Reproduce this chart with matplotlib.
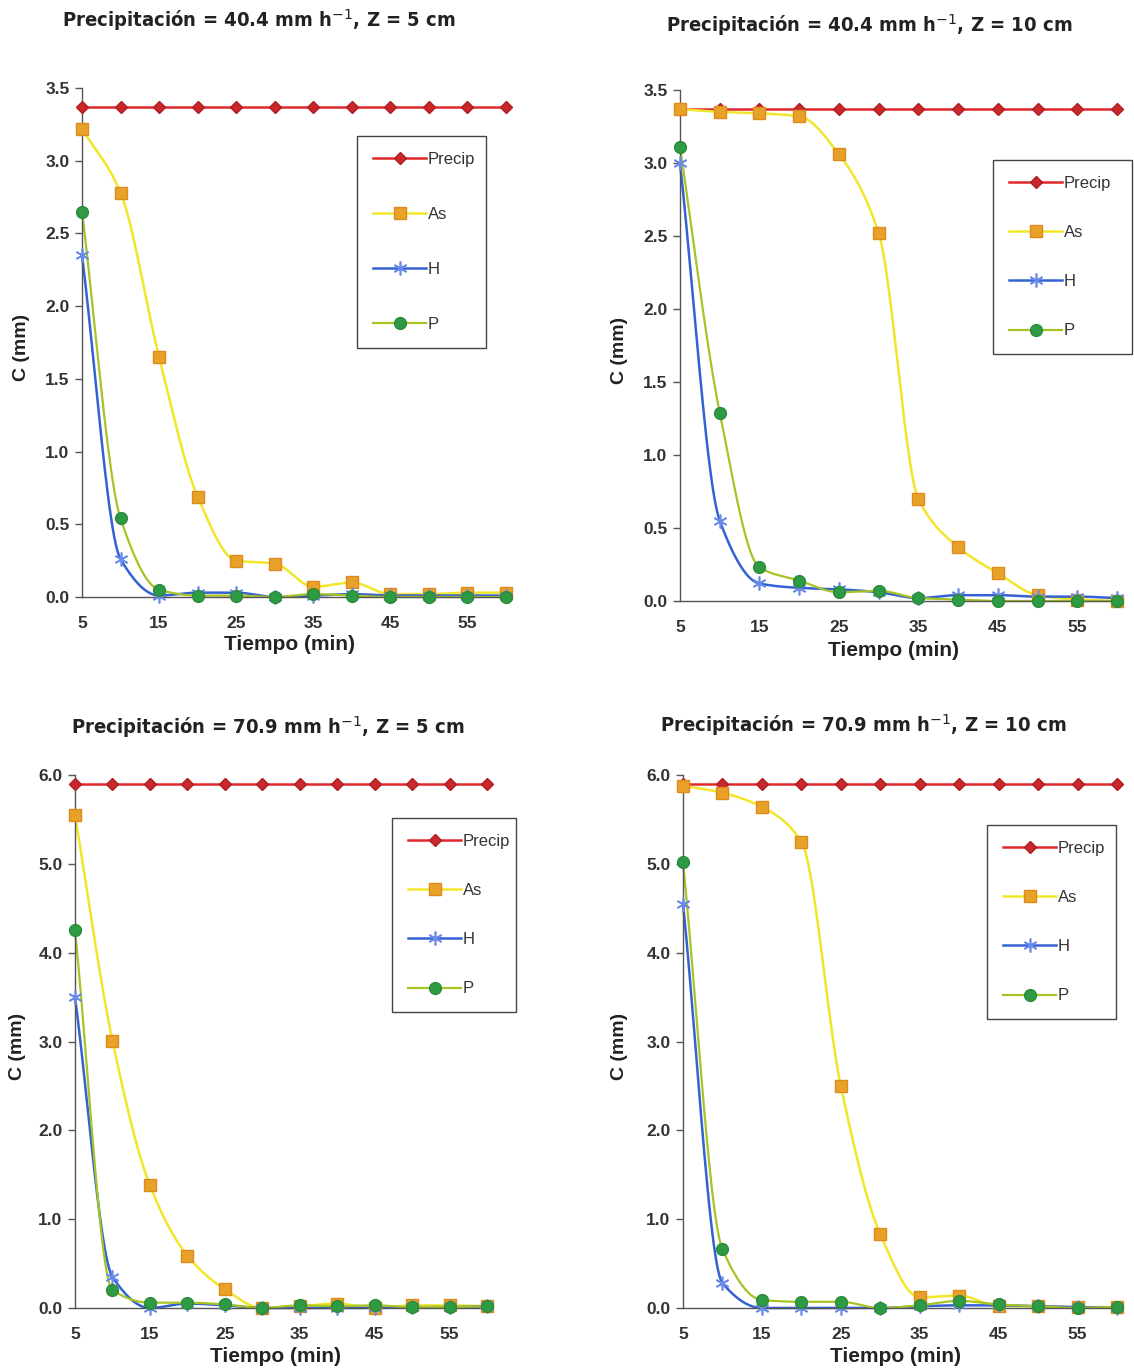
import numpy as np
import matplotlib
matplotlib.use("Agg")
import matplotlib.pyplot as plt
from matplotlib.lines import Line2D

plt.rcParams['font.family'] = ['Liberation Sans', 'DejaVu Sans']

# ---------------- data ----------------
tiempo = [5, 10, 15, 20, 25, 30, 35, 40, 45, 50, 55, 60]
xticks = [5, 15, 25, 35, 45, 55]

titles = [
    r"Precipitación = 40.4 mm h$^{-1}$, Z = 5 cm",
    r"Precipitación = 40.4 mm h$^{-1}$, Z = 10 cm",
    r"Precipitación = 70.9 mm h$^{-1}$, Z = 5 cm",
    r"Precipitación = 70.9 mm h$^{-1}$, Z = 10 cm",
]
series_names = ["Precip", "As", "H", "P"]

# Panel 1: 40.4 mm/h, Z = 5 cm
p1_precip = [3.37] * 12
p1_as = [3.22, 2.78, 1.65, 0.69, 0.25, 0.23, 0.07, 0.10, 0.02, 0.02, 0.03, 0.03]
p1_h = [2.35, 0.26, 0.01, 0.03, 0.03, 0.00, 0.01, 0.02, 0.01, 0.01, 0.01, 0.01]
p1_p = [2.65, 0.54, 0.05, 0.01, 0.01, 0.00, 0.02, 0.01, 0.00, 0.00, 0.00, 0.00]

# Panel 2: 40.4 mm/h, Z = 10 cm
p2_precip = [3.37] * 12
p2_as = [3.37, 3.35, 3.34, 3.32, 3.06, 2.52, 0.70, 0.37, 0.19, 0.04, 0.01, 0.00]
p2_h = [3.00, 0.55, 0.12, 0.09, 0.08, 0.06, 0.02, 0.04, 0.04, 0.03, 0.03, 0.02]
p2_p = [3.11, 1.29, 0.23, 0.14, 0.06, 0.07, 0.02, 0.01, 0.00, 0.00, 0.00, 0.00]

# Panel 3: 70.9 mm/h, Z = 5 cm
p3_precip = [5.90] * 12
p3_as = [5.55, 3.01, 1.38, 0.59, 0.21, 0.00, 0.02, 0.05, 0.00, 0.03, 0.03, 0.02]
p3_h = [3.50, 0.35, 0.00, 0.05, 0.03, 0.00, 0.00, 0.00, 0.00, 0.01, 0.01, 0.02]
p3_p = [4.25, 0.20, 0.06, 0.06, 0.04, 0.00, 0.03, 0.02, 0.03, 0.01, 0.01, 0.02]

# Panel 4: 70.9 mm/h, Z = 10 cm
p4_precip = [5.90] * 12
p4_as = [5.88, 5.80, 5.64, 5.25, 2.50, 0.83, 0.12, 0.14, 0.02, 0.02, 0.01, 0.01]
p4_h = [4.55, 0.28, 0.00, 0.00, 0.00, 0.00, 0.02, 0.03, 0.03, 0.02, 0.01, 0.00]
p4_p = [5.02, 0.66, 0.09, 0.07, 0.07, 0.00, 0.03, 0.08, 0.04, 0.02, 0.00, 0.01]

panels = [
    (p1_precip, p1_as, p1_h, p1_p),
    (p2_precip, p2_as, p2_h, p2_p),
    (p3_precip, p3_as, p3_h, p3_p),
    (p4_precip, p4_as, p4_h, p4_p),
]
ymax = [3.5, 3.5, 6.0, 6.0]
ystep = [0.5, 0.5, 1.0, 1.0]

# ---------------- styles ----------------
styles = [
    dict(color="#E0282C", lw=1.8, marker="D", ms=6, mfc="#C8282A", mec="#B01E22"),
    dict(color="#F2E62A", lw=1.8, marker="s", ms=8.5, mfc="#E8A22A", mec="#E08A1E"),
    dict(color="#3462D4", lw=1.8, marker=(6, 2, 0), ms=10, mfc="#6A8AE8", mec="#6A8AE8", mew=1.2),
    dict(color="#A6C424", lw=1.6, marker="o", ms=8.5, mfc="#2E9A44", mec="#2A8A3A"),
]


def smooth(x, y, n=24):
    """Monotone cubic Hermite curve through the points (display smoothing only)."""
    x = np.asarray(x, float)
    y = np.asarray(y, float)
    h = np.diff(x)
    d = np.diff(y) / h
    m = np.zeros_like(y)
    m[0], m[-1] = d[0], d[-1]
    for i in range(1, len(y) - 1):
        if d[i - 1] * d[i] <= 0:
            m[i] = 0.0
        else:
            w1 = 2 * h[i] + h[i - 1]
            w2 = h[i] + 2 * h[i - 1]
            m[i] = (w1 + w2) / (w1 / d[i - 1] + w2 / d[i])
    xs, ys = [], []
    t = np.linspace(0, 1, n, endpoint=False)
    for i in range(len(x) - 1):
        h00 = 2 * t**3 - 3 * t**2 + 1
        h10 = t**3 - 2 * t**2 + t
        h01 = -2 * t**3 + 3 * t**2
        h11 = t**3 - t**2
        xs.append(x[i] + t * h[i])
        ys.append(h00 * y[i] + h10 * h[i] * m[i] + h01 * y[i + 1] + h11 * h[i] * m[i + 1])
    xs.append([x[-1]])
    ys.append([y[-1]])
    return np.concatenate(xs), np.concatenate(ys)


W, H = 1134, 1370
fig = plt.figure(figsize=(W / 100, H / 100), dpi=100)


def fx(px):
    return px / W


def fy(py):
    return 1 - py / H


# axes rectangles in pixels: left, top, right, bottom
rects = [
    (82, 88, 506, 597),
    (680, 90, 1117, 601),
    (75, 775, 487, 1308),
    (683, 775, 1117, 1308),
]
title_pos = [(259, 20), (869, 25), (268, 727), (863, 725)]
ylabel_x = [22, 620, 17, 620]
xlabel_y = [645, 650, 1357, 1357]
legend_boxes = [  # left, top, right, bottom in px
    (357, 136, 486, 346),
    (993, 160, 1132, 355),
    (392, 818, 516, 1013),
    (987, 825, 1116, 1021),
]
legend_spacing = [2.4, 2.05, 2.05, 2.05]

text_color = "#333333"
title_family = ["DejaVu Sans", "Liberation Sans"]

for k, (rect, data) in enumerate(zip(rects, panels)):
    l, t, r, b = rect
    ax = fig.add_axes([fx(l), fy(b), fx(r - l), (b - t) / H])
    handles = []
    for s, (name, vals) in enumerate(zip(series_names, data)):
        st = styles[s]
        sx, sy = smooth(tiempo, vals)
        ax.plot(sx, sy, color=st["color"], lw=st["lw"], zorder=2 + s * 0.1, clip_on=False)
        ax.plot(tiempo, vals, ls="none", marker=st["marker"], ms=st["ms"],
                mfc=st["mfc"], mec=st["mec"], mew=st.get("mew", 1.0), zorder=3 + s * 0.1, clip_on=False)
        handles.append(Line2D([], [], color=st["color"], lw=st["lw"], marker=st["marker"], ms=st["ms"],
                              mfc=st["mfc"], mec=st["mec"], mew=st.get("mew", 1.0)))
    ax.set_xlim(5, 60)
    ax.set_ylim(0, ymax[k])
    ax.set_xticks(xticks)
    yt = np.arange(0, ymax[k] + 1e-9, ystep[k])
    ax.set_yticks(yt)
    ax.set_yticklabels([f"{v:.1f}" for v in yt])
    for sp in ["top", "right"]:
        ax.spines[sp].set_visible(False)
    for sp in ["left", "bottom"]:
        ax.spines[sp].set_color("#555555")
        ax.spines[sp].set_linewidth(1.0)
    ax.tick_params(axis="y", direction="out", length=5, width=1, color="#555555",
                   labelsize=12.5, labelcolor=text_color, pad=4)
    ax.tick_params(axis="x", direction="out", length=0, labelsize=12.5, labelcolor=text_color, pad=14)
    for lab in ax.get_xticklabels() + ax.get_yticklabels():
        lab.set_fontweight("bold")
    ax.set_facecolor("white")

    # titles / labels in figure coordinates
    tx, ty = title_pos[k]
    fig.text(fx(tx), fy(ty), titles[k], ha="center", va="center", fontsize=14.5,
             fontweight="bold", fontstretch="condensed", color="#222222", family=title_family)
    fig.text(fx(ylabel_x[k]), fy((t + b) / 2 + 5), "C (mm)", rotation=90, ha="center", va="center",
             fontsize=14, fontweight="bold", color="#222222")
    fig.text(fx((l + r) / 2 - 5), fy(xlabel_y[k]), "Tiempo (min)", ha="center", va="center",
             fontsize=15, fontweight="bold", color="#222222")

    # legend
    ll, lt, lr, lb = legend_boxes[k]
    leg = fig.legend(handles, series_names, loc="upper left",
                     bbox_to_anchor=(fx(ll), fy(lb), fx(lr - ll), (lb - lt) / H),
                     mode="expand", frameon=True, fancybox=False, borderaxespad=0,
                     fontsize=12, labelspacing=legend_spacing[k], handlelength=3.2, handletextpad=0.1,
                     borderpad=0.95, edgecolor="#444444", facecolor="white", framealpha=1)
    leg.get_frame().set_linewidth(1.0)
    for txt in leg.get_texts():
        txt.set_color(text_color)

fig.savefig("out.png", dpi=100, facecolor="white")
